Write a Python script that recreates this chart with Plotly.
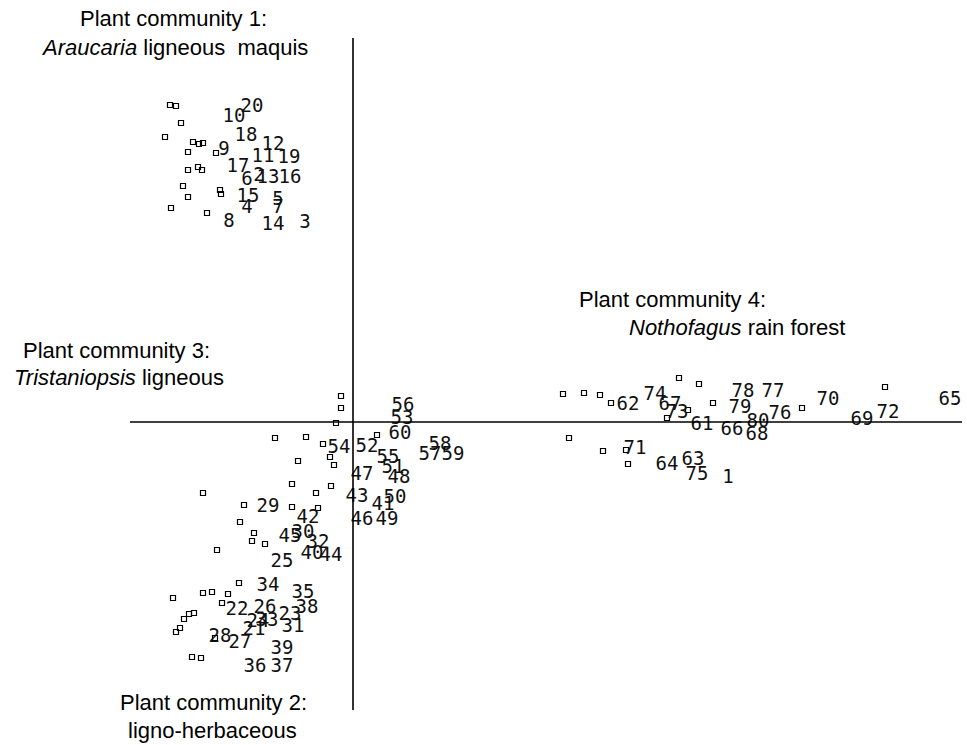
import plotly.graph_objects as go

# Ordination scores of the 80 relevés (axis 1, axis 2)
site_labels = [str(i) for i in range(1, 81)]
site_x = [3.75, -0.94, -0.48, -1.06, -0.75, -1.06, -0.75, -1.24, -1.29, -1.19,
          -0.90, -0.80, -0.85, -0.80, -1.05, -0.63, -1.15, -1.07, -0.64, -1.01,
          -0.99, -1.16, -0.63, -0.95, -0.71, -0.88, -1.13, -1.33, -0.85, -0.50,
          -0.60, -0.35, -0.86, -0.85, -0.50, -0.98, -0.71, -0.46, -0.71, -0.41,
          0.30, -0.45, 0.04, -0.22, -0.63, 0.09, 0.09, 0.46, 0.34, 0.42,
          0.40, 0.14, 0.49, -0.14, 0.35, 0.50, 0.77, 0.87, 1.00, 0.47,
          3.49, 2.75, 3.40, 3.14, 5.97, 3.79, 3.17, 4.04, 5.09, 4.75,
          2.82, 5.35, 3.24, 3.02, 3.44, 4.27, 4.20, 3.90, 3.87, 4.05]
site_y = [-0.56, 2.46, 1.99, 2.14, 2.22, 2.42, 2.14, 2.00, 2.72, 3.05,
          2.65, 2.77, 2.44, 1.97, 2.25, 2.44, 2.55, 2.86, 2.64, 3.15,
          -2.08, -1.88, -1.93, -2.00, -1.40, -1.86, -2.21, -2.15, -0.85, -1.11,
          -2.05, -1.21, -1.99, -1.64, -1.71, -2.45, -2.45, -1.86, -2.27, -1.32,
          -0.83, -0.96, -0.75, -1.34, -1.15, -0.98, -0.53, -0.56, -0.98, -0.76,
          -0.46, -0.25, 0.03, -0.26, -0.36, 0.16, -0.33, -0.23, -0.33, -0.12,
          -0.03, 0.17, -0.38, -0.43, 0.22, -0.08, 0.17, -0.13, 0.02, 0.22,
          -0.27, 0.09, 0.09, 0.27, -0.53, 0.08, 0.30, 0.30, 0.14, 0.00]

# Species scores (small squares)
species_x = [-1.83, -1.77, -1.72, -1.88, -1.60, -1.54, -1.50, -1.37, -1.65, -1.65,
             -1.55, -1.51, -1.70, -1.65, -1.33, -1.32, -1.82, -1.46,
             -0.12, -0.12, -0.17, 0.24, -0.78, -0.47, -0.30, -0.23, -0.55, -0.19,
             -0.61, -0.37, -0.22, -0.61, -0.35,
             -1.50, -1.09, -1.13, -0.99, -1.01, -0.88, -1.36, -1.14, -1.50, -1.41,
             -1.25, -1.80, -1.31, -1.59, -1.64, -1.69, -1.73, -1.77, -1.38, -1.61, -1.52,
             2.10, 2.31, 2.47, 2.58, 3.26, 3.46, 3.60, 3.14, 3.35, 2.16,
             2.50, 2.75, 2.73, 4.49, 5.32]
species_y = [3.17, 3.16, 2.99, 2.85, 2.80, 2.78, 2.79, 2.69, 2.70, 2.52,
             2.55, 2.52, 2.36, 2.25, 2.32, 2.28, 2.14, 2.09,
             0.26, 0.14, -0.01, -0.13, -0.16, -0.15, -0.22, -0.35, -0.39, -0.43,
             -0.62, -0.71, -0.64, -0.85, -0.86,
             -0.71, -0.83, -1.00, -1.11, -1.19, -1.22, -1.28, -1.61, -1.71, -1.70,
             -1.72, -1.76, -1.81, -1.91, -1.92, -1.97, -2.06, -2.10, -2.16, -2.35, -2.36,
             0.28, 0.29, 0.27, 0.19, 0.44, 0.38, 0.19, 0.04, 0.12, -0.16,
             -0.29, -0.42, -0.28, 0.14, 0.35]

# Extent of the drawn axes
axis1_extent = [-2.23, 6.09]
axis2_extent = [-2.88, 3.84]

fig = go.Figure()

fig.add_trace(go.Scatter(
    x=species_x, y=species_y, mode="markers",
    marker=dict(symbol="square-open", size=5, color="black",
                line=dict(width=1.2, color="black")),
    hoverinfo="skip", showlegend=False,
))

fig.add_trace(go.Scatter(
    x=site_x, y=site_y, mode="text", text=site_labels,
    textposition="middle center",
    textfont=dict(family="DejaVu Sans Mono", size=19, color="#111111"),
    showlegend=False,
))

# Axes through the origin
fig.add_shape(type="line", xref="x", yref="y",
              x0=axis1_extent[0], x1=axis1_extent[1], y0=0, y1=0,
              line=dict(color="black", width=1.6))
fig.add_shape(type="line", xref="x", yref="y",
              x0=0, x1=0, y0=axis2_extent[0], y1=axis2_extent[1],
              line=dict(color="black", width=1.6))

LABEL_FONT = dict(family="Liberation Sans, Arial", size=22, color="black")

community_labels = [
    ("Plant community 1:", 0.179, 0.975),
    ("<i>Araucaria</i> ligneous  maquis", 0.180, 0.936),
    ("Plant community 3:", 0.120, 0.530),
    ("<i>Tristaniopsis</i> ligneous", 0.123, 0.493),
    ("Plant community 4:", 0.695, 0.598),
    ("<i>Nothofagus</i> rain forest", 0.762, 0.561),
    ("Plant community 2:", 0.221, 0.057),
    ("ligno-herbaceous", 0.220, 0.019),
]
for txt, px, py in community_labels:
    fig.add_annotation(text=txt, x=px, y=py, xref="paper", yref="paper",
                       xanchor="center", yanchor="middle", showarrow=False,
                       font=LABEL_FONT)

fig.update_layout(
    width=967, height=745, autosize=False,
    margin=dict(l=0, r=0, t=0, b=0),
    paper_bgcolor="white", plot_bgcolor="white",
    xaxis=dict(range=[-3.53, 6.14], visible=False, fixedrange=True),
    yaxis=dict(range=[-3.23, 4.22], visible=False, fixedrange=True),
)

fig.write_html("out.html")
